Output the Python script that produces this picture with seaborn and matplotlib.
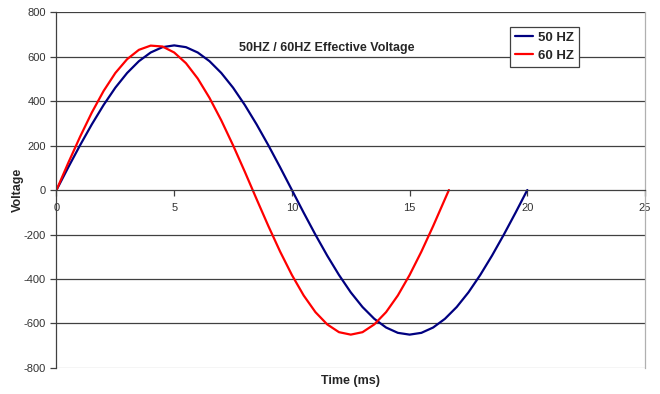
import matplotlib
matplotlib.use("Agg")
import matplotlib.pyplot as plt
import numpy as np
import pandas as pd
import seaborn as sns

# values, 0.5 ms apart
t50 = [i * 0.5 for i in range(41)]
v50 = [0, 102, 201, 295, 382, 460, 526, 579, 618, 642,
       650, 642, 618, 579, 526, 460, 382, 295, 201, 102,
       0, -102, -201, -295, -382, -460, -526, -579, -618, -642,
       -650, -642, -618, -579, -526, -460, -382, -295, -201, -102, 0]

t60 = [i * 0.5 for i in range(34)] + [16.67]
v60 = [0, 122, 239, 348, 445, 526, 588, 630, 649, 645,
       618, 570, 501, 414, 313, 201, 82, -41, -162, -277,
       -382, -474, -549, -604, -639, -650, -639, -604, -549, -474,
       -382, -277, -162, -41, 0]

series = ["50 HZ", "60 HZ"]
colors = ["#000080", "#ff0000"]

df = pd.concat([
    pd.DataFrame({"t": t50, "v": v50, "s": series[0]}),
    pd.DataFrame({"t": t60, "v": v60, "s": series[1]}),
])

sns.set_style("white")
plt.rcParams["font.family"] = ["Liberation Sans", "DejaVu Sans"]
plt.rcParams["axes.unicode_minus"] = False

fig = plt.figure(figsize=(6.6, 3.94), dpi=100)
ax = fig.add_axes([0.0856, 0.066, 0.8917, 0.9035])

sns.lineplot(data=df, x="t", y="v", hue="s", palette=colors, sort=False,
             linewidth=1.6, ax=ax, legend=True)

ax.set_xlim(0, 25)
ax.set_ylim(-800, 800)
ax.set_xticks([0, 5, 10, 15, 20, 25])
ax.set_yticks(np.arange(-800, 801, 200))

for y in range(-600, 801, 200):
    if y != 0:
        ax.axhline(y, color="#404040", linewidth=0.9, zorder=0)
ax.axhline(-800, color="#b0b0b0", linewidth=0.9, zorder=0)

ax.spines["bottom"].set_position(("data", 0))
ax.spines["bottom"].set_color("#404040")
ax.spines["left"].set_color("#404040")
ax.spines["right"].set_color("#b0b0b0")
ax.spines["top"].set_visible(False)
for sp in ax.spines.values():
    sp.set_linewidth(0.9)

ax.tick_params(axis="both", direction="out", length=4, width=0.9,
               color="#404040", labelsize=8, labelcolor="#333333",
               bottom=True, left=True)
ax.tick_params(axis="x", pad=5)

ax.set_xlabel("Time (ms)", fontsize=9, fontweight="bold")
ax.xaxis.set_label_coords(0.5, -0.02)
ax.set_ylabel("Voltage", fontsize=9, fontweight="bold")
ax.yaxis.set_label_coords(-0.055, 0.5)

ax.text(0.46, 0.90, "50HZ / 60HZ Effective Voltage", transform=ax.transAxes,
        ha="center", va="center", fontsize=9, fontweight="bold")

leg = ax.legend(loc="upper left", bbox_to_anchor=(0.771, 0.958), frameon=True,
                fancybox=False, edgecolor="#404040", framealpha=1,
                prop={"weight": "bold", "size": 9.5}, handlelength=1.4,
                borderpad=0.35, labelspacing=0.45, handletextpad=0.35,
                borderaxespad=0)
leg.get_frame().set_linewidth(0.9)

fig.savefig("out.png", dpi=100)
